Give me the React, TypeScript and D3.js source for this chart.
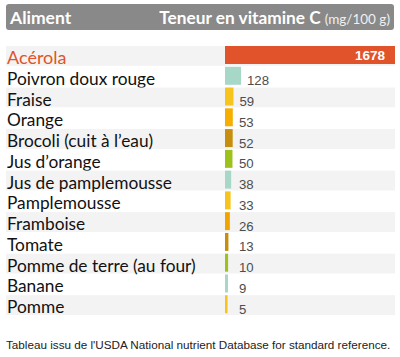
import React from "react";
import * as d3 from "d3";

const foods = [
  "Acérola",
  "Poivron doux rouge",
  "Fraise",
  "Orange",
  "Brocoli (cuit à l’eau)",
  "Jus d’orange",
  "Jus de pamplemousse",
  "Pamplemousse",
  "Framboise",
  "Tomate",
  "Pomme de terre (au four)",
  "Banane",
  "Pomme",
];
const values = [1678, 128, 59, 53, 52, 50, 38, 33, 26, 13, 10, 9, 5];
const barColors = [
  "#e1532a",
  "#a7d7c6",
  "#f6c41c",
  "#f6ae00",
  "#c78e0e",
  "#9ec21d",
  "#a7d7c6",
  "#f6c41c",
  "#f0a400",
  "#c78e0e",
  "#9ec21d",
  "#a7d7c6",
  "#f6c41c",
];
const headerLeft = "Aliment";
const headerRight = "Teneur en vitamine C";
const headerUnit = "(mg/100 g)";
const footer = "Tableau issu de l'USDA National nutrient Database for standard reference.";

const W = 400;
const H = 357;
const barX0 = 225;
const barMaxX = 395;

export default function App() {
  const y = d3.scaleBand<string>().domain(foods).range([46, 316]).paddingInner(0);
  const w = d3.scaleLinear().domain([0, 128]).range([2, 16]);
  const labelFont = "Lato, 'Open Sans', sans-serif";
  const numFont = "'Liberation Sans', Arial, sans-serif";
  return (
    <svg width={W} height={H} style={{ position: "absolute", left: 0, top: 0, background: "#fff" }}>
      <rect x={6} y={4} width={388} height={26} rx={3} fill="#898989" />
      <text x={10} y={23.5} fill="#fff" fontFamily={labelFont} fontWeight={700} fontSize={17.5}>
        {headerLeft}
      </text>
      <text x={390} y={23.5} textAnchor="end" fill="#fff" fontFamily={labelFont} fontSize={17.3}>
        <tspan fontWeight={700}>{headerRight}</tspan>
        <tspan fontSize={13.5} fill="#f0f0f0" dx={4}>{headerUnit}</tspan>
      </text>
      {foods.map((f, i) => {
        const y0 = y(f)!;
        const bw = Math.min(w(values[i]), barMaxX - barX0);
        const first = i === 0;
        return (
          <g key={f}>
            {i % 2 === 0 && (
              <rect x={6} y={y0} width={389} height={y.bandwidth() - 1} fill="#f3f3f3" />
            )}
            <rect x={barX0} y={y0} width={bw} height={18} fill={barColors[i]} />
            <text
              x={7}
              y={y0 + 18}
              fill={first ? "#e1532a" : "#111"}
              fontFamily={labelFont}
              fontSize={first ? 18 : 17.3}
            >
              {f}
            </text>
            {first ? (
              <text
                x={barX0 + bw - 10}
                y={y0 + 14}
                textAnchor="end"
                fill="#fff"
                fontFamily={numFont}
                fontWeight={700}
                fontSize={13.5}
              >
                {values[i]}
              </text>
            ) : (
              <text
                x={barX0 + Math.max(bw, 8) + 6}
                y={y0 + 18.5}
                fill="#4d4d4d"
                fontFamily={numFont}
                fontSize={13.2}
              >
                {values[i]}
              </text>
            )}
          </g>
        );
      })}
      <text x={6} y={349} fill="#222" fontFamily={numFont} fontSize={11.7}>
        {footer}
      </text>
    </svg>
  );
}
